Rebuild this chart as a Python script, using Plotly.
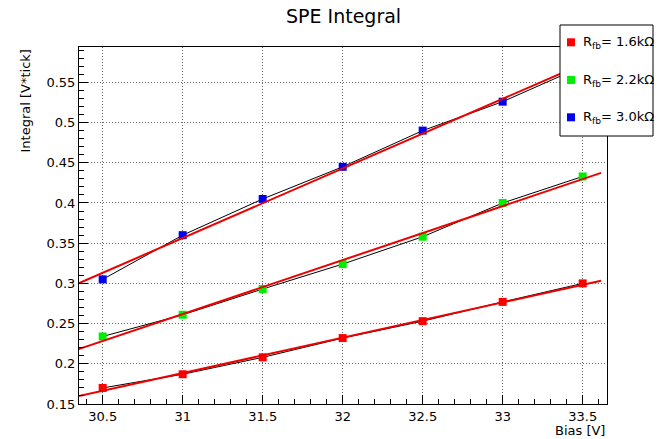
import plotly.graph_objects as go
import numpy as np

# ---- data ----
bias = [30.5, 31.0, 31.5, 32.0, 32.5, 33.0, 33.5]
integral_1p6k = [0.170, 0.187, 0.208, 0.232, 0.253, 0.277, 0.300]
integral_2p2k = [0.234, 0.261, 0.293, 0.324, 0.358, 0.400, 0.433]
integral_3p0k = [0.305, 0.360, 0.405, 0.445, 0.490, 0.526, 0.570]
series_names = ["R<sub>fb</sub>= 1.6kΩ", "R<sub>fb</sub>= 2.2kΩ", "R<sub>fb</sub>= 3.0kΩ"]
series_colors = ["#ff0000", "#00ee00", "#0000ee"]
fit_range = [30.35, 33.615]

W, H = 667, 439
L, R, T, B = 79, 60, 47, 35
PW, PH = W - L - R, H - T - B
FONT = "DejaVu Sans, Liberation Sans, Arial, sans-serif"

def px(x):
    return (x - L) / PW

def py(y):
    return (H - B - y) / PH

fig = go.Figure()
series = [integral_1p6k, integral_2p2k, integral_3p0k]
for ys, col in zip(series, series_colors):
    fig.add_trace(go.Scatter(x=bias, y=ys, mode="lines+markers",
                             line=dict(color="black", width=1),
                             marker=dict(symbol="square", size=8, color=col),
                             showlegend=False))
for ys in series:
    k, b0 = np.polyfit(bias, ys, 1)
    fx = np.array(fit_range)
    fig.add_trace(go.Scatter(x=fx, y=k * fx + b0, mode="lines",
                             line=dict(color="#ee0000", width=2),
                             showlegend=False, hoverinfo="skip"))

axis_common = dict(showline=True, linecolor="black", linewidth=1, mirror=True,
                   ticks="inside", tickcolor="black", ticklen=9,
                   showgrid=True, gridcolor="#666", griddash="1px,2px", gridwidth=1,
                   zeroline=False, tickfont=dict(family=FONT, size=13, color="black"))
fig.update_xaxes(range=[30.352, 33.652], tick0=30.5, dtick=0.5,
                 minor=dict(dtick=0.1, ticklen=5, ticks="inside", tickcolor="black", showgrid=False),
                 **axis_common)
fig.update_yaxes(range=[0.15, 0.594], tick0=0.15, dtick=0.05,
                 minor=dict(dtick=0.01, ticklen=5, ticks="inside", tickcolor="black", showgrid=False),
                 **axis_common)

shapes = []
annotations = []
# legend box
shapes.append(dict(type="rect", xref="paper", yref="paper",
                   x0=px(560), x1=px(653), y0=py(136), y1=py(25),
                   fillcolor="white", line=dict(color="black", width=1), layer="above"))
rows = [42.3, 80, 117.3]
for rowy, col, name in zip(rows, series_colors, series_names):
    shapes.append(dict(type="rect", xref="paper", yref="paper",
                       x0=px(567), x1=px(575), y0=py(rowy + 4), y1=py(rowy - 4),
                       fillcolor=col, line=dict(width=0), layer="above"))
    annotations.append(dict(text=name, xref="paper", yref="paper", x=px(581), y=py(rowy),
                            xanchor="left", yanchor="middle", showarrow=False,
                            font=dict(family=FONT, size=13, color="black")))

annotations.append(dict(text="Integral [V*tick]", xref="paper", yref="paper",
                        x=px(25), y=py(48), textangle=-90, xanchor="center", yanchor="top",
                        showarrow=False, font=dict(family=FONT, size=13, color="black")))
annotations.append(dict(text="Bias [V]", xref="paper", yref="paper",
                        x=px(607), y=py(430), xanchor="right", yanchor="middle",
                        showarrow=False, font=dict(family=FONT, size=13, color="black")))
annotations.append(dict(text="SPE Integral", xref="paper", yref="paper",
                        x=0.5, y=py(16), xanchor="center", yanchor="middle",
                        showarrow=False, font=dict(family=FONT, size=19, color="black")))

fig.update_layout(width=W, height=H, margin=dict(l=L, r=R, t=T, b=B),
                  paper_bgcolor="white", plot_bgcolor="white",
                  shapes=shapes, annotations=annotations, showlegend=False)

fig.write_html("out.html")
